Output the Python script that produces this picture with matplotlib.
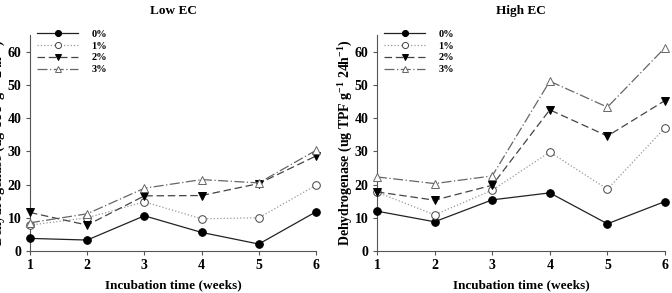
import matplotlib
matplotlib.use("Agg")
import matplotlib.pyplot as plt

weeks = [1, 2, 3, 4, 5, 6]
series_labels = ["0%", "1%", "2%", "3%"]
low_ec = {
    "0%": [3.8, 3.3, 10.6, 5.6, 2.1, 11.8],
    "1%": [7.8, 10.0, 14.8, 9.7, 10.0, 19.8],
    "2%": [11.6, 7.8, 16.6, 16.7, 20.3, 28.6],
    "3%": [8.5, 11.2, 18.9, 21.5, 20.5, 30.3],
}
high_ec = {
    "0%": [12.0, 8.8, 15.4, 17.5, 8.2, 14.9],
    "1%": [17.7, 10.9, 18.3, 29.8, 18.6, 37.1],
    "2%": [17.8, 15.3, 19.8, 42.5, 34.6, 45.3],
    "3%": [22.3, 20.3, 22.6, 51.1, 43.3, 61.2],
}
titles = ["Low EC", "High EC"]
yticks = [0, 10, 20, 30, 40, 50, 60]

plt.rcParams['font.family'] = ['Liberation Serif', 'DejaVu Serif']
plt.rcParams['font.weight'] = 'bold'
plt.rcParams['mathtext.fontset'] = 'custom'
plt.rcParams['mathtext.rm'] = 'Liberation Serif:bold'
plt.rcParams['mathtext.bf'] = 'Liberation Serif:bold'
plt.rcParams['mathtext.default'] = 'bf'

styles = {
    "0%": dict(color="#222222", linestyle="-", marker="o", mfc="black", mec="black"),
    "1%": dict(color="#999999", linestyle=":", marker="o", mfc="white", mec="#444444"),
    "2%": dict(color="#444444", linestyle=(0, (6, 3)), marker="v", mfc="black", mec="black"),
    "3%": dict(color="#666666", linestyle=(0, (8, 2, 1, 2)), marker="^", mfc="white", mec="#666666"),
}

fig = plt.figure(figsize=(6.72, 2.93), dpi=100)
positions = [[0.0446, 0.1433, 0.4256, 0.737], [0.561, 0.1433, 0.4286, 0.737]]
datasets = [low_ec, high_ec]

for pos, data, title in zip(positions, datasets, titles):
    ax = fig.add_axes(pos)
    for lab in series_labels:
        st = styles[lab]
        ax.plot(weeks, data[lab], label=lab, color=st["color"], linestyle=st["linestyle"],
                linewidth=0.9, marker=st["marker"], markersize=5.5,
                markerfacecolor=st["mfc"], markeredgecolor=st["mec"], markeredgewidth=0.7,
                clip_on=False, zorder=3)
    ax.set_xlim(1, 6)
    ax.set_ylim(0, 65)
    ax.set_xticks(weeks)
    ax.set_yticks(yticks)
    for s in ["top", "right"]:
        ax.spines[s].set_visible(False)
    for s in ["left", "bottom"]:
        ax.spines[s].set_color("#555555")
        ax.spines[s].set_linewidth(0.8)
    ax.tick_params(direction="out", length=3, width=0.8, colors="#555555",
                   labelcolor="black", labelsize=10, pad=3)
    for t in ax.get_xticklabels() + ax.get_yticklabels():
        t.set_fontweight("bold")
    ax.set_xlabel("Incubation time (weeks)", fontsize=9.5, fontweight="bold", labelpad=5)
    ax.set_ylabel(r"Dehydrogenase (ug TPF g$^{-1}$ 24h$^{-1}$)", fontsize=10,
                  fontweight="bold", labelpad=0)
    ax.set_title(title, fontsize=9.5, fontweight="bold", pad=15)
    leg = ax.legend(loc="upper left", bbox_to_anchor=(0.0, 1.06), frameon=False, fontsize=7.5,
                    handlelength=3.9, handletextpad=1.3, labelspacing=0.25, borderaxespad=0.3,
                    markerscale=0.8)
    for t in leg.get_texts():
        t.set_fontweight("bold")

fig.savefig("out.png", dpi=100)
